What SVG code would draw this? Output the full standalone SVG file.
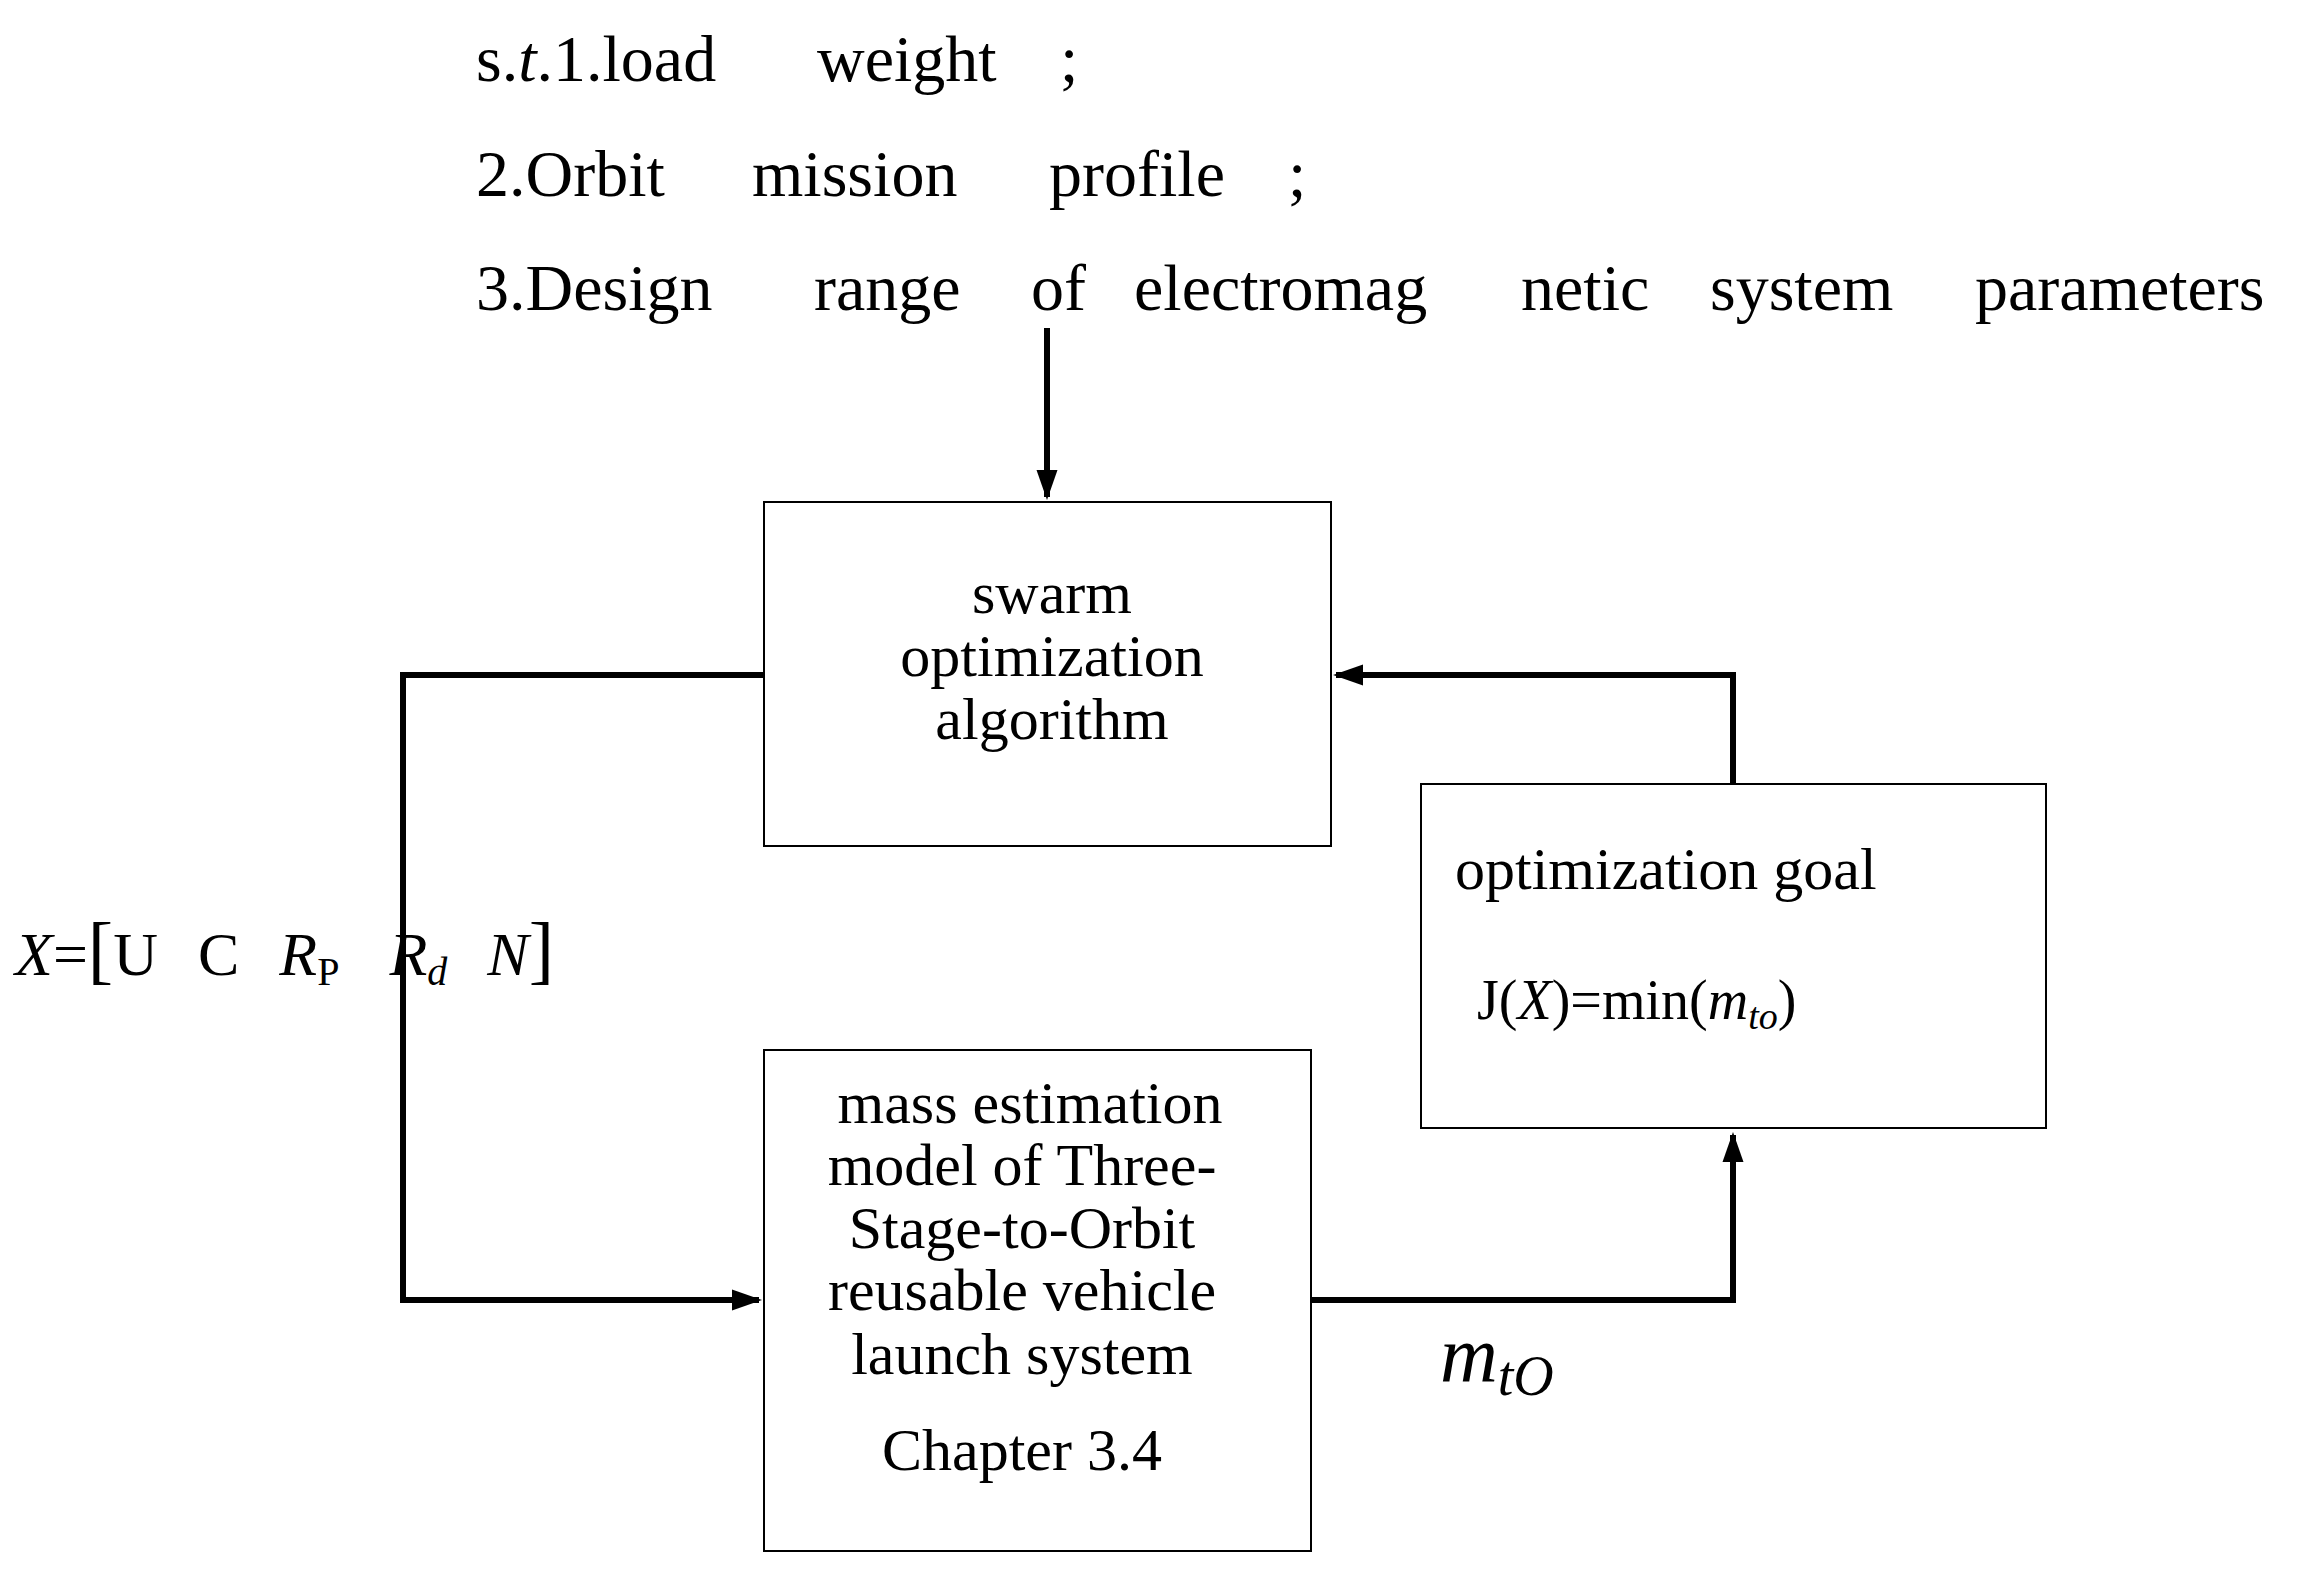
<svg xmlns="http://www.w3.org/2000/svg" width="2316" height="1578" viewBox="0 0 2316 1578">
<style>
text{font-family:"Liberation Serif","Times New Roman",serif;fill:#000}
.h{font-size:66px}
.b{font-size:60px;text-anchor:middle}
.box{fill:#fff;stroke:#000;stroke-width:2}
.ln{fill:none;stroke:#000;stroke-width:6}
</style>
<defs><marker id="a" viewBox="0 0 10 10" refX="9" refY="5" markerWidth="5" markerHeight="5" orient="auto" markerUnits="strokeWidth"><path d="M0,1.5 L10,5 L0,8.5 z" fill="#000"/></marker></defs>
<rect width="2316" height="1578" fill="#fff"/>
<g id="constraints" class="h">
<text y="81"><tspan x="476">s.<tspan font-style="italic">t</tspan>.1.load</tspan><tspan x="817">weight</tspan><tspan x="1060">;</tspan></text>
<text y="196"><tspan x="476">2.Orbit</tspan><tspan x="752">mission</tspan><tspan x="1049">profile</tspan><tspan x="1288">;</tspan></text>
<text y="310"><tspan x="476">3.Design</tspan><tspan x="814">range</tspan><tspan x="1031">of</tspan><tspan x="1134">electromag</tspan><tspan x="1521">netic</tspan><tspan x="1710">system</tspan><tspan x="1975">parameters</tspan></text>
</g>
<g id="connectors">
<path class="ln" d="M1047,328 V497" marker-end="url(#a)"/>
<path class="ln" d="M764,675 H403 V1300 H759" marker-end="url(#a)"/>
<path class="ln" d="M1311,1300 H1733 V1135" marker-end="url(#a)"/>
<path class="ln" d="M1733,784 V675 H1336" marker-end="url(#a)"/>
</g>
<g id="swarm">
<rect class="box" x="764" y="502" width="567" height="344"/>
<text class="b" x="1052" y="613">swarm</text>
<text class="b" x="1052" y="676">optimization</text>
<text class="b" x="1052" y="739">algorithm</text>
</g>
<g id="mass">
<rect class="box" x="764" y="1050" width="547" height="501"/>
<text class="b" x="1030" y="1123">mass estimation</text>
<text class="b" x="1022" y="1185">model of Three-</text>
<text class="b" x="1022" y="1248">Stage-to-Orbit</text>
<text class="b" x="1022" y="1310">reusable vehicle</text>
<text class="b" x="1022" y="1374">launch system</text>
<text class="b" x="1022" y="1470">Chapter 3.4</text>
</g>
<g id="goal">
<rect class="box" x="1421" y="784" width="625" height="344"/>
<text x="1455" y="889" font-size="60">optimization goal</text>
<text x="1477" y="1019" font-size="56">J(<tspan font-style="italic">X</tspan>)=min(<tspan font-style="italic">m<tspan font-size="38" dy="10">to</tspan></tspan><tspan dy="-10">)</tspan></text>
</g>
<g id="labels">
<text x="15" y="975" font-size="62"><tspan font-style="italic">X</tspan>=<tspan font-size="76">[</tspan>U<tspan dx="40">C</tspan><tspan dx="40" font-style="italic">R</tspan><tspan font-size="40" dy="10">P</tspan><tspan dx="50" dy="-10" font-style="italic">R</tspan><tspan font-size="40" dy="10" font-style="italic">d</tspan><tspan dx="40" dy="-10" font-style="italic">N</tspan><tspan font-size="76">]</tspan></text>
<text x="1440" y="1381" font-size="80" font-style="italic">m<tspan font-size="56" dy="14">tO</tspan></text>
</g>
</svg>
